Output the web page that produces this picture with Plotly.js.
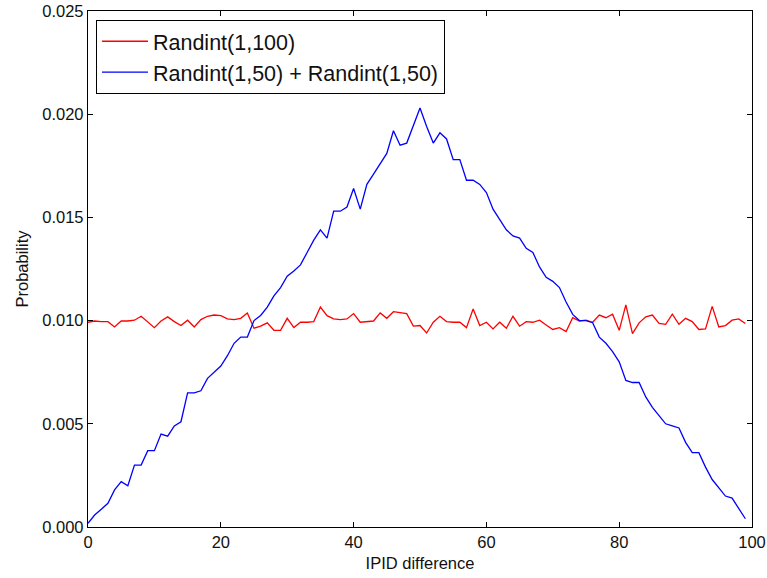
<!DOCTYPE html>
<html>
<head>
<meta charset="utf-8">
<script src="https://cdn.plot.ly/plotly-3.0.1.min.js"></script>
<style>html,body{margin:0;padding:0;background:#fff;}#chart{width:767px;height:578px;}</style>
</head>
<body>
<div id="chart"></div>
<script>
const xValues = Array.from({length: 100}, (_, i) => i);

const uniformName = "Randint(1,100)";
const uniformProb = [
  0.00992, 0.00998, 0.00995, 0.00995, 0.00969, 0.00998, 0.00998, 0.01002, 0.01021, 0.00995,
  0.00966, 0.00998, 0.01018, 0.00995, 0.00976, 0.01002, 0.00969, 0.01005, 0.01021, 0.01027,
  0.01024, 0.01008, 0.01005, 0.01011, 0.01037, 0.00963, 0.00973, 0.00989, 0.00953, 0.00953,
  0.01011, 0.00966, 0.00992, 0.00992, 0.00995, 0.01066, 0.01024, 0.01008, 0.01005, 0.01008,
  0.01034, 0.00992, 0.00995, 0.00998, 0.01037, 0.01011, 0.01043, 0.01040, 0.01034, 0.00973,
  0.00976, 0.00940, 0.00992, 0.01021, 0.00995, 0.00992, 0.00992, 0.00966, 0.01056, 0.00976,
  0.00992, 0.00960, 0.00992, 0.00963, 0.01021, 0.00973, 0.00995, 0.00992, 0.01002, 0.00979,
  0.00957, 0.00966, 0.00947, 0.01014, 0.00998, 0.01002, 0.00992, 0.01027, 0.01014, 0.01031,
  0.00953, 0.01076, 0.00937, 0.00989, 0.01018, 0.01027, 0.00986, 0.00982, 0.01031, 0.00982,
  0.01011, 0.00995, 0.00957, 0.00960, 0.01069, 0.00969, 0.00976, 0.01002, 0.01008, 0.00986
];

const sumName = "Randint(1,50) + Randint(1,50)";
const sumProb = [
  0.00018, 0.00058, 0.00086, 0.00115, 0.00180, 0.00220, 0.00200, 0.00300, 0.00300, 0.00370,
  0.00370, 0.00450, 0.00440, 0.00490, 0.00510, 0.00650, 0.00650, 0.00660, 0.00720, 0.00750,
  0.00780, 0.00830, 0.00890, 0.00920, 0.00920, 0.01000, 0.01025, 0.01065, 0.01120, 0.01160,
  0.01215, 0.01240, 0.01270, 0.01330, 0.01390, 0.01440, 0.01400, 0.01530, 0.01530, 0.01550,
  0.01640, 0.01540, 0.01660, 0.01710, 0.01760, 0.01810, 0.01920, 0.01850, 0.01860, 0.01950,
  0.02030, 0.01940, 0.01860, 0.01910, 0.01880, 0.01780, 0.01780, 0.01680, 0.01680, 0.01660,
  0.01620, 0.01540, 0.01490, 0.01440, 0.01410, 0.01400, 0.01350, 0.01330, 0.01260, 0.01210,
  0.01190, 0.01160, 0.01090, 0.01030, 0.01000, 0.01000, 0.00990, 0.00920, 0.00890, 0.00850,
  0.00800, 0.00710, 0.00700, 0.00700, 0.00630, 0.00580, 0.00540, 0.00500, 0.00490, 0.00480,
  0.00410, 0.00360, 0.00360, 0.00290, 0.00230, 0.00190, 0.00150, 0.00140, 0.00090, 0.00040
];

const yTicks = [0, 0.005, 0.01, 0.015, 0.02, 0.025];
const xTicks = [0, 20, 40, 60, 80, 100];

const traces = [
  {x: xValues, y: uniformProb, name: uniformName, type: 'scatter', mode: 'lines',
   line: {color: '#ff0000', width: 1.3}, legendgroup: 'a'},
  {x: xValues, y: sumProb, name: sumName, type: 'scatter', mode: 'lines',
   line: {color: '#0000ff', width: 1.3}, legendgroup: 'b'}
];

const fontFam = 'Liberation Sans, Arial, sans-serif';
const axisCommon = {
  showline: true, linecolor: '#000', linewidth: 1.2, mirror: 'allticks',
  ticks: 'inside', ticklen: 5, tickcolor: '#000', tickwidth: 1,
  showgrid: false, zeroline: false,
  tickfont: {family: fontFam, size: 16.5, color: '#111'}
};

const layout = {
  width: 767, height: 578,
  margin: {l: 88, r: 15, t: 11, b: 51},
  paper_bgcolor: '#fff', plot_bgcolor: '#fff',
  font: {family: fontFam, color: '#111'},
  showlegend: true,
  legend: {
    x: 0.012, y: 0.983, xanchor: 'left', yanchor: 'top',
    bordercolor: '#000', borderwidth: 1, bgcolor: '#fff',
    font: {size: 21.5, color: '#111'}, tracegroupgap: 0, itemwidth: 46
  },
  xaxis: Object.assign({}, axisCommon, {
    range: [0, 100], tickvals: xTicks, ticktext: xTicks.map(String),
    title: {text: 'IPID difference', font: {size: 16.5}, standoff: 7}
  }),
  yaxis: Object.assign({}, axisCommon, {
    range: [0, 0.025], tickvals: yTicks, ticktext: yTicks.map(v => v.toFixed(3)),
    title: {text: 'Probability', font: {size: 16.5}, standoff: 9}
  })
};

Plotly.newPlot('chart', traces, layout, {displayModeBar: false, staticPlot: true});
</script>
</body>
</html>
